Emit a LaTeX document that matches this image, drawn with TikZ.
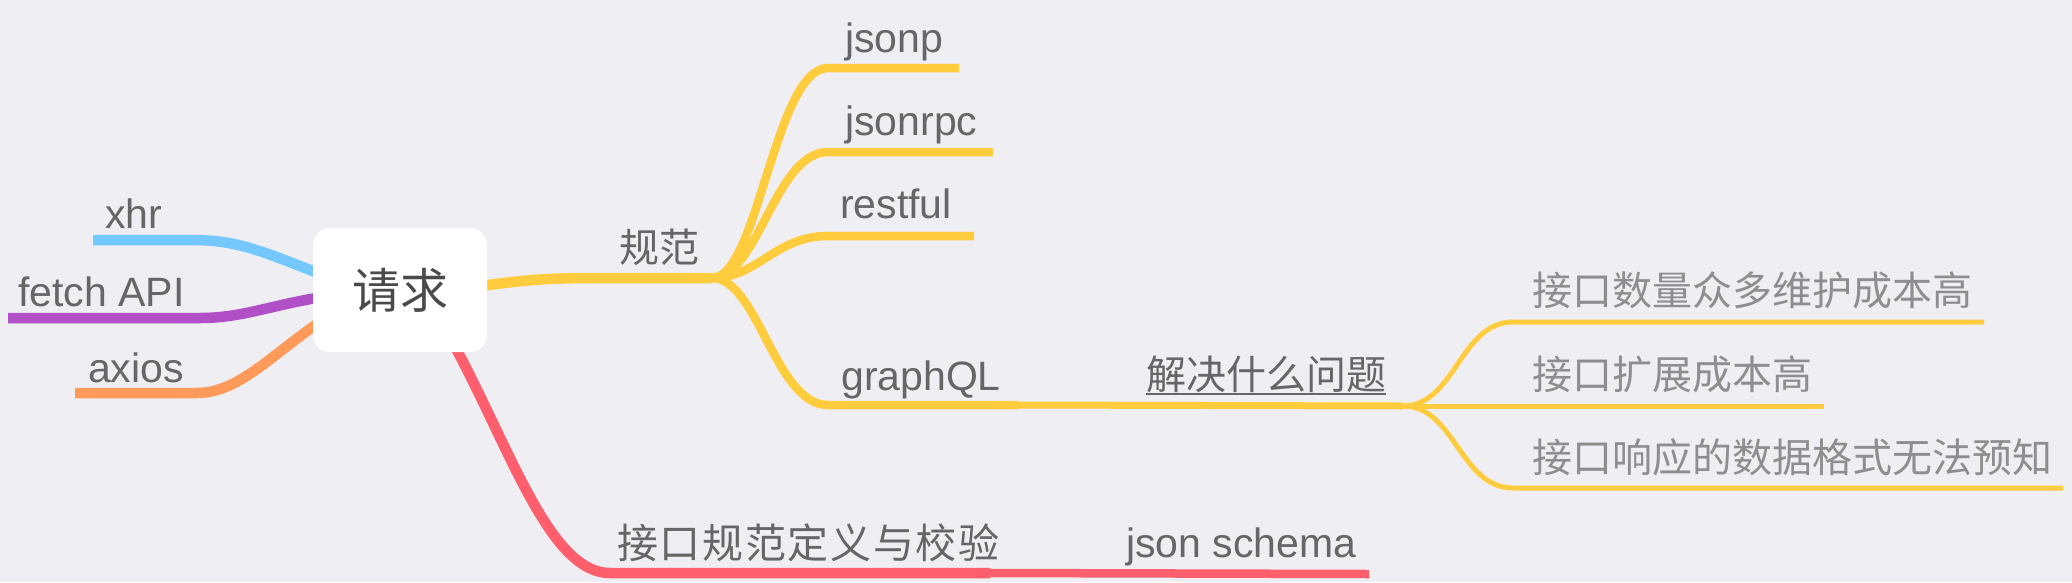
\documentclass[tikz,border=0pt]{standalone}
\usepackage{fontspec}
\setmainfont{Liberation Sans}
\newfontfamily\cjk{Noto Sans CJK SC}
\newfontfamily\cjkwide[LetterSpace=4]{Noto Sans CJK SC}
\definecolor{bgc}{HTML}{EEEEF3}
\definecolor{ylw}{HTML}{FFCC3E}
\definecolor{rd}{HTML}{FF5F6D}
\definecolor{blu}{HTML}{74C8FD}
\definecolor{pur}{HTML}{B04FC6}
\definecolor{org}{HTML}{FF9A5B}
\definecolor{txtA}{HTML}{666666}
\definecolor{txtB}{HTML}{8E8E8E}
\definecolor{txtR}{HTML}{4A4A4A}
\pgfdeclarelayer{bg}
\pgfsetlayers{bg,main}
\begin{document}
\begin{tikzpicture}[x=1pt,y=-1pt,
  line cap=round, line join=round,
  rootbox/.style={fill=white, rounded corners=17pt, minimum width=174pt, minimum height=124pt, inner sep=0pt, text=txtR, font=\fontsize{48}{48}\selectfont\cjk},
  lat/.style={anchor=base west, inner sep=0pt, text=txtA, font=\fontsize{41}{41}\selectfont},
  zh/.style={anchor=base west, inner sep=0pt, text=txtA, font=\fontsize{40}{40}\selectfont\cjk},
  zhlight/.style={zh, text=txtB},
  lvA/.style={line width=10.5pt},
  lvB/.style={line width=8.5pt},
  lvC/.style={line width=7pt},
  lvD/.style={line width=5pt}]
\useasboundingbox (0,0) rectangle (2072,582);
\node[rootbox] (root) at (400,290) {请求};
% labels
\node[lat] (xhr) at (105,228) {xhr};
\node[lat] (fetch) at (18,306) {fetch API};
\node[lat] (axios) at (88,382) {axios};
\node[zh] (gf) at (619,262) {规范};
\node[lat] (jsonp) at (845,52) {jsonp};
\node[lat] (jsonrpc) at (845,135) {jsonrpc};
\node[lat] (restful) at (840,218) {restful};
\node[lat] (graphql) at (841,390) {graphQL};
\node[zh] (jj) at (1146,389) {解决什么问题};
\draw[txtA, line width=2pt, line cap=butt] ([yshift=-5pt]jj.base west) -- ([yshift=-5pt]jj.base east);
\node[zhlight] (p1) at (1532,305) {接口数量众多维护成本高};
\node[zhlight] (p2) at (1532,389) {接口扩展成本高};
\node[zhlight] (p3) at (1532,472) {接口响应的数据格式无法预知};
\node[zh, font=\fontsize{41}{41}\selectfont\cjkwide] (jk) at (617,558) {接口规范定义与校验};
\node[lat] (schema) at (1126,557) {json schema};
% connector points
\coordinate (e-xhr) at (93,240);
\coordinate (e-fetch) at (8,318);
\coordinate (e-axios) at (75,393);
\coordinate (j1) at (712,278);
\coordinate (e-jsonp) at (959,68);
\coordinate (e-jsonrpc) at (993,152);
\coordinate (e-restful) at (974,236);
\coordinate (k-graphql) at (1018,405);
\coordinate (j2) at (1403,406);
\coordinate (e-p1) at (1984,322);
\coordinate (e-p2) at (1824,406);
\coordinate (e-p3) at (2063,488);
\coordinate (k-jk) at (990,573);
\coordinate (e-schema) at (1369,574);
\begin{pgfonlayer}{bg}
\fill[bgc] (0,0) rectangle (2072,582);
% left branches
\draw[blu, lvA] ([shift={(-40,0)}]root.center) .. controls (260,250) and (240,240) .. (190,240) -- (e-xhr);
\draw[pur, lvA] ([shift={(-40,2)}]root.center) .. controls (280,300) and (250,318) .. (200,318) -- (e-fetch);
\draw[org, lvA] ([shift={(-40,10)}]root.center) .. controls (290,330) and (250,393) .. (197,393) -- (e-axios);
% yellow branch
\draw[ylw, lvA] ([shift={(40,2)}]root.center) .. controls (520,280) and (540,278) .. (600,278) -- (j1);
\draw[ylw, lvB] (j1) .. controls (758,278) and (775,68) .. (828,68) -- (e-jsonp);
\draw[ylw, lvB] (j1) .. controls (758,278) and (775,152) .. (828,152) -- (e-jsonrpc);
\draw[ylw, lvB] (j1) .. controls (758,278) and (775,236) .. (828,236) -- (e-restful);
\draw[ylw, lvB] (j1) .. controls (758,278) and (775,405) .. (828,405) -- (k-graphql);
\draw[ylw, lvC] (k-graphql) -- (j2);
\draw[ylw, lvD] (j2) .. controls (1455,406) and (1460,322) .. (1513,322) -- (e-p1);
\draw[ylw, lvD] (j2) -- (e-p2);
\draw[ylw, lvD] (j2) .. controls (1455,406) and (1460,488) .. (1513,488) -- (e-p3);
% red branch
\draw[rd, lvA] ([shift={(40,30)}]root.center) .. controls (505,430) and (545,573) .. (610,573) -- (k-jk);
\draw[rd, lvB] (k-jk) -- (e-schema);
\end{pgfonlayer}
\end{tikzpicture}
\end{document}
